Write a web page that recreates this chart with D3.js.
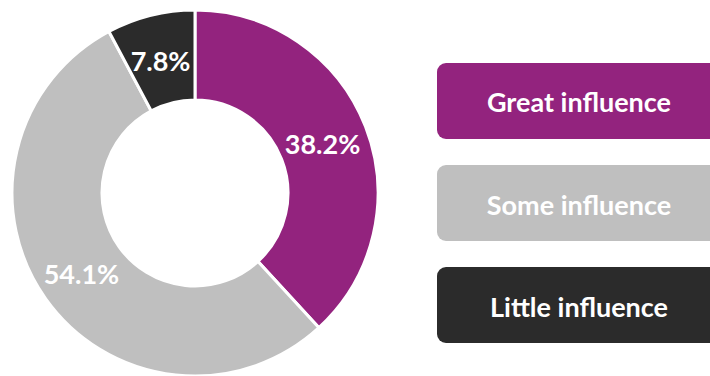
<!DOCTYPE html>
<html><head><meta charset="utf-8">
<script src="https://cdn.jsdelivr.net/npm/d3@7"></script>
<style>body{margin:0;background:#fff}svg{display:block}</style>
</head><body>
<svg id="c" width="710" height="376"></svg>
<script>
const categories = ["Great influence", "Some influence", "Little influence"];
const values = [38.2, 54.1, 7.8];
const labels = ["38.2%", "54.1%", "7.8%"];
const colors = ["#93237e", "#bfbfbf", "#2b2b2b"];

const svg = d3.select("#c");
const cx = 195, cy = 193, rOut = 183, rIn = 93;
const pie = d3.pie().sort(null).value(d => d)(values);
const arc = d3.arc().innerRadius(rIn).outerRadius(rOut);
const g = svg.append("g").attr("transform", `translate(${cx},${cy})`);
g.selectAll("path").data(pie).enter().append("path")
  .attr("d", arc).attr("fill", (d,i) => colors[i])
  .attr("stroke", "#fff").attr("stroke-width", 3).attr("stroke-linejoin", "miter");
const labelArc = d3.arc().innerRadius(138).outerRadius(138);
g.selectAll("text").data(pie).enter().append("text")
  .attr("x", d => labelArc.centroid(d)[0] - 1)
  .attr("y", d => labelArc.centroid(d)[1] + 1)
  .attr("text-anchor", "middle").attr("dominant-baseline", "central")
  .attr("font-family", "Lato, sans-serif").attr("font-weight", 700)
  .attr("font-size", 27).attr("fill", "#fff")
  .text((d,i) => labels[i]);

const ly = d3.scaleBand().domain(categories).range([63, 343]).paddingInner(0.255);
const lg = svg.append("g");
lg.selectAll("rect").data(categories).enter().append("rect")
  .attr("x", 437).attr("y", d => ly(d)).attr("width", 290).attr("height", ly.bandwidth())
  .attr("rx", 9).attr("fill", (d,i) => colors[i]);
lg.selectAll("text").data(categories).enter().append("text")
  .attr("x", 579).attr("y", d => ly(d) + ly.bandwidth()/2 + 1)
  .attr("text-anchor", "middle").attr("dominant-baseline", "central")
  .attr("font-family", "Lato, sans-serif").attr("font-weight", 700)
  .attr("font-size", 27).attr("fill", "#fff").text(d => d);
</script>
</body></html>
